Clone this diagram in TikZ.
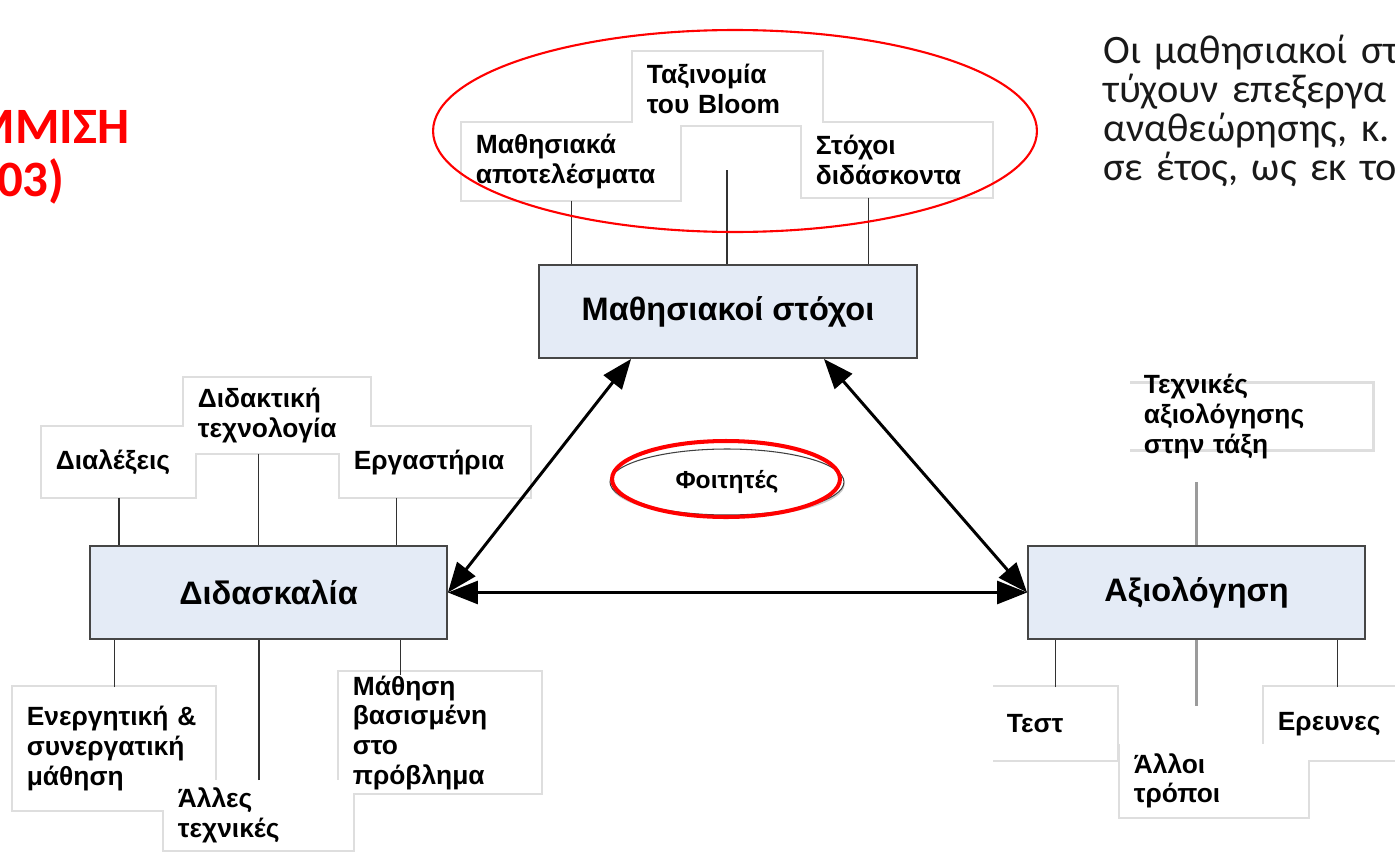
\documentclass[tikz,border=0pt]{standalone}
\usepackage{fontspec}
\setmainfont{Liberation Sans}
\newfontfamily\slidefont{Carlito}
\usetikzlibrary{shapes.geometric, arrows.meta, positioning, calc, shadows}
\definecolor{boxfill}{RGB}{228,235,246}
\definecolor{boxline}{RGB}{70,70,70}
\definecolor{rimgray}{RGB}{222,222,222}
\definecolor{linkdark}{RGB}{50,50,50}
\definecolor{linkgray}{RGB}{155,155,155}
\definecolor{slidered}{RGB}{255,0,0}
\tikzset{
  mainbox/.style={rectangle, draw=boxline, fill=boxfill, line width=1.1pt,
    minimum height=1.86cm, font=\fontsize{18.5}{22}\selectfont\bfseries},
  item/.style={rectangle, fill=white, anchor=north west, align=left,
    inner xsep=0.27cm, inner ysep=0pt, font=\fontsize{15}{17}\selectfont\bfseries},
  rim/.style={draw=rimgray, line width=1.8pt},
  link/.style={draw=linkdark, line width=0.85pt},
  faintlink/.style={draw=linkgray, line width=1.3pt},
  duplex/.style={{Triangle[length=17pt,width=13pt]}-{Triangle[length=17pt,width=13pt]},
    line width=1.7pt, color=black},
  slidetitle/.style={inner sep=0pt, text=slidered,
    font=\slidefont\fontsize{29}{30}\selectfont\bfseries},
  slidebody/.style={inner sep=0pt, text width=10cm, align=left, text=black!90,
    font=\slidefont\fontsize{23}{22.3}\selectfont}
}
\pgfdeclarelayer{rims}
\pgfsetlayers{rims,main}

\begin{document}
\begin{tikzpicture}[x=0.02cm, y=-0.02cm,
  ring/.style={ellipse, draw=slidered, inner sep=0pt},
  student/.style={ellipse, draw=black!75, fill=white, line width=0.6pt,
    minimum width=4.68cm, minimum height=1.32cm, font=\fontsize{14}{16}\selectfont\bfseries,
    drop shadow={shadow xshift=0.4pt, shadow yshift=-1.3pt, fill=black!40}}
]
  \useasboundingbox (0,0) rectangle (1395,852);

  % slide text
  \node[slidetitle, anchor=base east] (titlea) at (130,143) {ΜΜΙΣΗ};
  \node[slidetitle, anchor=base east] (titleb) at (65,196) {03)};
  \node[slidebody, anchor=base west] (note) at (1103,63)
    {Οι μαθησιακοί στ\\τύχουν επεξεργα\\αναθεώρησης, κ.\\σε έτος, ως εκ το};

  % main boxes
  \node[mainbox, minimum width=7.56cm] (goals) at (728,311.5) {Μαθησιακοί στόχοι};
  \node[mainbox, minimum width=7.14cm] (teach) at (268.5,592.5) {Διδασκαλία};
  \node[mainbox, minimum width=6.74cm] (assess) at (1196.5,592.5) {Αξιολόγηση};

  % items of the goals
  \node[item, text width=3.24cm, minimum height=1.46cm] (bloom) at (633,52) {Ταξινομία\\του Bloom};
  \node[item, text width=3.82cm, minimum height=1.54cm] (outcomes) at (462,123) {Μαθησιακά\\αποτελέσματα};
  \node[item, text width=3.26cm, minimum height=1.48cm] (aims) at (802,123) {Στόχοι\\διδάσκοντα};

  % items of the teaching
  \node[item, text width=3.18cm, minimum height=1.5cm] (techno) at (184,378) {Διδακτική\\τεχνολογία};
  \node[item, text width=2.52cm, minimum height=1.4cm] (lect) at (42,427) {Διαλέξεις};
  \node[item, text width=3.26cm, minimum height=1.4cm] (labs) at (340,427) {Εργαστήρια};
  \node[item, text width=3.5cm, minimum height=2.46cm] (active) at (13,687) {Ενεργητική \&\\συνεργατική\\μάθηση};
  \node[item, text width=3.24cm, minimum height=1.4cm] (other) at (164,780) {Άλλες\\τεχνικές};
  \node[item, text width=3.5cm, minimum height=2.42cm] (pbl) at (339,672) {Μάθηση\\βασισμένη\\στο\\πρόβλημα};

  % items of the assessment
  \node[item, fill=none, text width=4.32cm, minimum height=1.48cm] (techniques) at (1130,374) {Τεχνικές\\αξιολόγησης\\στην τάξη};
  \node[item, text width=1.94cm, minimum height=1.46cm] (tests) at (993,687) {Τεστ};
  \node[item, text width=2.38cm, minimum height=1.46cm] (surveys) at (1264,687) {Ερευνες};
  \node[item, text width=3.22cm, minimum height=1.46cm] (otherways) at (1120,744) {Άλλοι\\τρόποι};

  \begin{pgfonlayer}{rims}
    \foreach \n in {bloom,outcomes,aims,techno,lect,labs,active,pbl,surveys}
      \draw[rim] (\n.south west) rectangle (\n.north east);
    \foreach \n in {other,otherways}
      \draw[rim] (\n.north west) |- (\n.south east) -- (\n.north east);
    \draw[rim] (tests.north west) -- (tests.north east) |- (tests.south west);
    \draw[rim] ([yshift=-5pt]techniques.north west) -- ([yshift=-5pt]techniques.north east)
      |- ([yshift=5pt]techniques.south west);
  \end{pgfonlayer}

  % stems
  \coordinate (bloomfoot) at (727,170);
  \coordinate (aimsfoot) at ($(aims.south)+(-29,0)$);
  \coordinate (technofoot) at ($(techno.south)+(-19,0)$);
  \coordinate (labsfoot) at ($(labs.south)+(-39,0)$);
  \coordinate (pblhead) at ($(pbl.north)+(-40,3)$);
  \coordinate (classfoot) at ($(assess.north)+(0,-63)$);
  \coordinate (waysfoot) at ($(assess.south)+(0,66)$);

  \draw[link] (outcomes.south) -- (outcomes.south |- goals.north);
  \draw[link] (bloomfoot) -- (bloomfoot |- goals.north);
  \draw[link] (aimsfoot) -- (aimsfoot |- goals.north);
  \draw[link] (lect.south) -- (lect.south |- teach.north);
  \draw[link] (technofoot) -- (technofoot |- teach.north);
  \draw[link] (labsfoot) -- (labsfoot |- teach.north);
  \draw[link] (active.north) -- (active.north |- teach.south);
  \draw[link] (other.north) -- (other.north |- teach.south);
  \draw[link] (pblhead) -- (pblhead |- teach.south);
  \draw[faintlink] (classfoot) -- (assess.north);
  \draw[faintlink] (assess.south) -- (waysfoot);
  \draw[link] (tests.north) -- (tests.north |- assess.south);
  \draw[link] (surveys.north) -- (surveys.north |- assess.south);

  % arrows
  \coordinate (goalsleft) at ($(goals.south west)+(93,0)$);
  \coordinate (goalsright) at ($(goals.south east)+(-94,0)$);
  \draw[duplex] (goalsleft) -- (teach.east);
  \draw[duplex] (goalsright) -- (assess.west);
  \draw[duplex] (teach.east) -- (assess.west);

  % students and the red rings
  \node[student] (students) at (727,482) {Φοιτητές};
  \node[ring, line width=2.3pt, minimum width=4.56cm, minimum height=1.52cm] (studentring) at (726,479) {};
  \node[ring, line width=1.2pt, minimum width=12.08cm, minimum height=4.04cm] (goalring) at (735,131) {};
\end{tikzpicture}
\end{document}
